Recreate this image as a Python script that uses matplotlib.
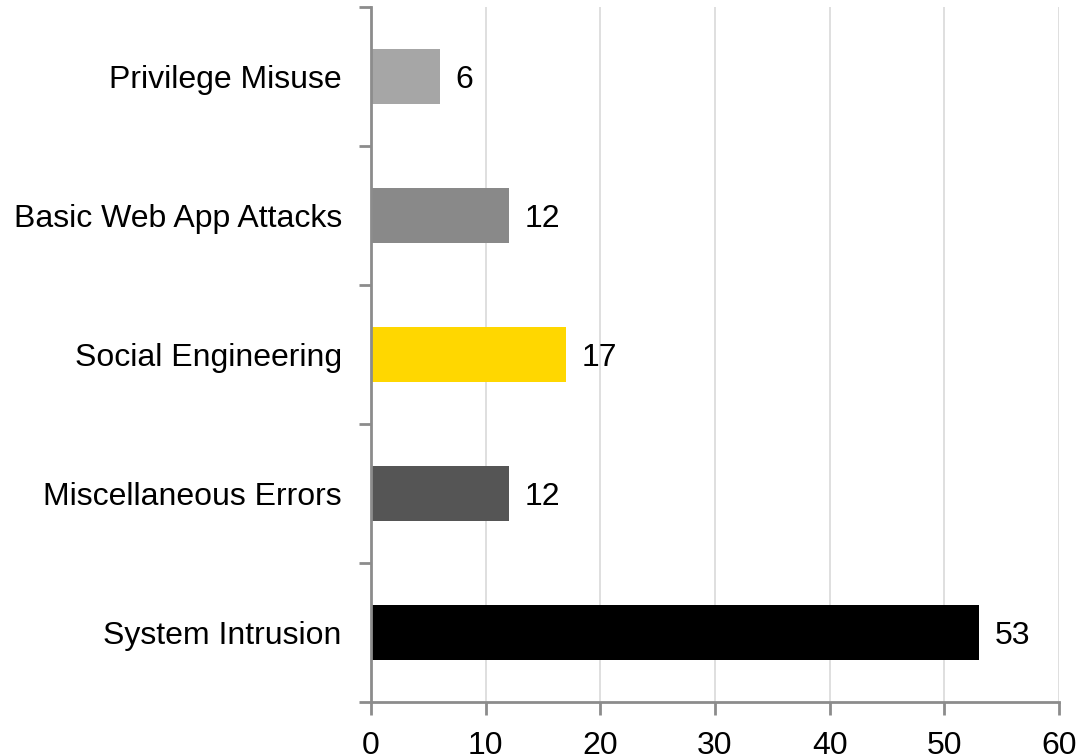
import matplotlib
matplotlib.use('Agg')
import matplotlib.pyplot as plt
import numpy as np

categories = ['System Intrusion', 'Miscellaneous Errors', 'Social Engineering',
              'Basic Web App Attacks', 'Privilege Misuse']
values = [53, 12, 17, 12, 6]
bar_colors = ['#000000', '#555555', '#ffd700', '#898989', '#a6a6a6']
xticks = [0, 10, 20, 30, 40, 50, 60]

plt.rcParams['font.family'] = ['Liberation Sans', 'DejaVu Sans']
AX = '#8c8c8c'
GRID = '#d9d9d9'
FS = 23

fig = plt.figure(figsize=(10.8, 7.56), dpi=100, facecolor='white')
ax = fig.add_axes([371/1080, 1 - 702/756, (1059 - 371)/1080, (702 - 7)/756])

y = np.arange(len(categories))
bars = ax.barh(y, values, height=0.4, color=bar_colors, zorder=3)

for b, v in zip(bars, values):
    ax.text(b.get_width() + 1.4, b.get_y() + b.get_height()/2, str(v),
            ha='left', va='center_baseline', fontsize=FS, color='black')

ax.set_xlim(0, 60)
ax.set_ylim(-0.5, len(categories) - 0.5)
ax.set_xticks(xticks)
ax.set_yticks(y)
ax.set_yticklabels(categories)
ax.set_yticks(np.arange(-0.5, len(categories)), minor=True)

ax.tick_params(axis='y', which='major', length=0, pad=21, labelsize=FS)
ax.tick_params(axis='y', which='minor', length=9, width=2, color=AX, direction='out')
ax.tick_params(axis='x', length=9, width=2, color=AX, pad=12, labelsize=FS)

ax.grid(axis='x', color=GRID, linewidth=1.2, zorder=0)
for s in ['top', 'right']:
    ax.spines[s].set_visible(False)
for s in ['left', 'bottom']:
    ax.spines[s].set_color(AX)
    ax.spines[s].set_linewidth(2)
    ax.spines[s].set_zorder(4)

fig.savefig('out.png', dpi=100, facecolor='white')
